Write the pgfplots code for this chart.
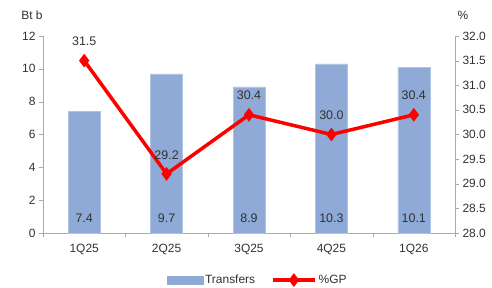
\documentclass[border=0pt]{standalone}
\usepackage{fontspec}
\setmainfont{Liberation Sans}
\usepackage{pgfplots}
\pgfplotsset{compat=1.18}
\definecolor{barblue}{RGB}{143,170,214}
\definecolor{txt}{RGB}{50,50,50}
\definecolor{axgray}{RGB}{170,170,170}
\pgfplotsset{
  gplegend/.style={legend image code/.code={\draw[##1, mark repeat=2, mark phase=2] plot coordinates {(0bp,0bp) (21bp,0bp) (42bp,0bp)};}},
  barlegend/.style={legend image code/.code={\fill[barblue] (0bp,-4bp) rectangle (36bp,4bp);}},
}
\begin{document}
\begin{tikzpicture}
\useasboundingbox (0,0) rectangle (492bp,288bp);
\begin{axis}[
  at={(43bp,55bp)}, anchor=south west,
  scale only axis, width=412bp, height=197bp,
  xmin=-0.5, xmax=4.5, ymin=0, ymax=12,
  ytick={0,2,...,12},
  xtick={0,...,4}, xticklabels={1Q25,2Q25,3Q25,4Q25,1Q26},
  minor xtick={-0.5,0.5,1.5,2.5,3.5,4.5},
  axis x line*=bottom, axis y line*=left,
  axis line style={draw=axgray,-},
  tick style={draw=axgray},
  major x tick style={draw=none},
  tick align=outside,
  major tick length=4bp, minor tick length=4bp,
  ticklabel style={font=\fontsize{12}{14}\selectfont, text=txt},
  xticklabel style={yshift=-4bp},
  /pgf/number format/assume math mode=true,
  clip=false,
]
\addplot[ybar, bar width=32bp, fill=barblue, draw=barblue!70!white] coordinates {(0,7.4) (1,9.7) (2,8.9) (3,10.3) (4,10.1)};
\node[text=txt, font=\fontsize{12.5}{14}\selectfont] at (axis cs:0,0.9) {7.4};
\node[text=txt, font=\fontsize{12.5}{14}\selectfont] at (axis cs:1,0.9) {9.7};
\node[text=txt, font=\fontsize{12.5}{14}\selectfont] at (axis cs:2,0.9) {8.9};
\node[text=txt, font=\fontsize{12.5}{14}\selectfont] at (axis cs:3,0.9) {10.3};
\node[text=txt, font=\fontsize{12.5}{14}\selectfont] at (axis cs:4,0.9) {10.1};
\end{axis}
\begin{axis}[
  at={(43bp,55bp)}, anchor=south west,
  scale only axis, width=412bp, height=197bp,
  xmin=-0.5, xmax=4.5, ymin=28, ymax=32,
  ytick={28,28.5,29,29.5,30,30.5,31,31.5,32},
  axis x line=none, axis y line*=right,
  axis line style={draw=axgray,-},
  tick style={draw=axgray},
  tick align=outside,
  major tick length=4bp,
  ticklabel style={font=\fontsize{12}{14}\selectfont, text=txt},
  yticklabel style={/pgf/number format/.cd, fixed, fixed zerofill, precision=1},
  /pgf/number format/assume math mode=true,
  clip=false,
  legend columns=2,
  legend style={at={(0.521,-0.239)}, anchor=center, draw=none, fill=none,
    font=\fontsize{12}{14}\selectfont, text=txt,
    /tikz/every even column/.append style={column sep=14bp}},
]
\addlegendimage{barlegend}
\addlegendentry{Transfers}
\addplot[red, line width=3.5bp, mark=diamond*, mark size=4bp,
  point meta=explicit symbolic,
  nodes near coords,
  nodes near coords style={anchor=south, inner sep=0pt, yshift=13bp, text=txt, font=\fontsize{12.5}{14}\selectfont},
  gplegend
] coordinates {(0,31.5) [31.5] (1,29.2) [29.2] (2,30.4) [30.4] (3,30.0) [30.0] (4,30.4) [30.4]};
\addlegendentry{\%GP}
\end{axis}
\node[text=txt, font=\fontsize{12}{14}\selectfont] at (32bp,273bp) {Bt b};
\node[text=txt, font=\fontsize{12}{14}\selectfont] at (463bp,273bp) {\%};
\end{tikzpicture}
\end{document}
